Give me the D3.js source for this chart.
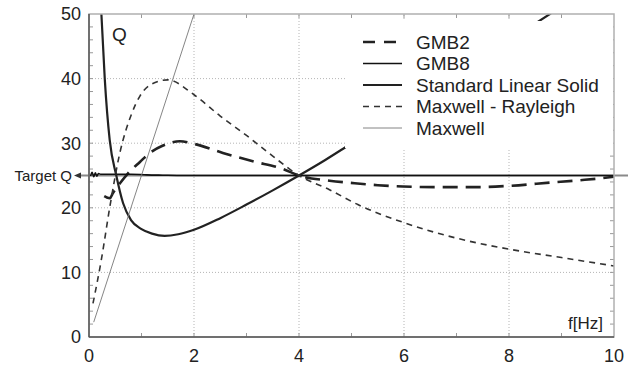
<!DOCTYPE html>
<html>
<head>
<meta charset="utf-8">
<script src="https://cdn.jsdelivr.net/npm/d3@7"></script>
<style>
  body { margin: 0; background: #fff; }
  text { font-family: "Liberation Sans", Arial, sans-serif; fill: #222; }
</style>
</head>
<body>
<div class="chart"></div>
<script>
var xTicks = [0, 2, 4, 6, 8, 10];
var yTicks = [0, 10, 20, 30, 40, 50];
var targetQ = 25;

var gmb2F = [0.29, 0.34, 0.4, 0.45, 0.59, 0.74, 0.97, 1.16, 1.4, 1.73, 2.0, 2.55, 3.12, 3.7, 4.0, 4.58, 5.06, 5.5, 5.98, 6.68, 7.38, 8.01, 8.78, 9.4, 9.79, 10];
var gmb2Q = [21.8, 21.6, 21.5, 22.2, 23.8, 25.3, 27.1, 28.5, 29.6, 30.3, 29.9, 28.5, 27.2, 26.0, 25.0, 24.2, 23.8, 23.5, 23.3, 23.2, 23.2, 23.4, 23.9, 24.3, 24.6, 24.8];

var gmb8F = [0.03, 0.06, 0.09, 0.12, 0.15, 0.18, 0.22, 0.3, 0.5, 0.8, 1.1, 1.4, 1.8, 2.5, 4, 6, 8, 10];
var gmb8Q = [24.9, 25.5, 24.8, 25.4, 24.9, 25.3, 25.2, 25.2, 25.2, 25.2, 25.1, 25.05, 25.0, 25.0, 25.0, 25.0, 25.0, 25.0];

var slsF = [0.236, 0.3, 0.394, 0.52, 0.65, 0.8, 1.0, 1.2, 1.44, 1.7, 2.0, 2.5, 3.0, 3.5, 4.0, 4.5, 4.87, 6, 7, 8, 8.8];
var slsQ = [50, 40, 30.5, 25, 20.7, 18.1, 16.7, 16.0, 15.65, 15.9, 16.6, 18.4, 20.5, 22.7, 25, 27.4, 29.3, 35.3, 40.6, 45.9, 50.1];

var mrF = [0.076, 0.236, 0.394, 0.585, 0.8, 0.97, 1.16, 1.5, 2.0, 2.5, 3.0, 3.5, 4.0, 4.58, 5.12, 6, 7, 8, 9, 10];
var mrQ = [5.2, 12, 20, 28.4, 34.3, 37.3, 39.0, 39.8, 37.5, 34.2, 31.2, 28.0, 25, 22.8, 20.5, 17.7, 15.3, 13.6, 12.3, 11.0];

var maxwellF = [0.09, 2.0];
var maxwellQ = [2.3, 50];

var seriesNames = ["GMB2", "GMB8", "Standard Linear Solid", "Maxwell - Rayleigh", "Maxwell"];

var width = 630, height = 365;
var x = d3.scaleLinear().domain([0, 10]).range([89, 614]);
var y = d3.scaleLinear().domain([0, 50]).range([337, 14]);

var svg = d3.select(".chart").append("svg")
  .attr("width", width)
  .attr("height", height);

svg.append("defs").append("clipPath").attr("id", "plot")
  .append("rect")
  .attr("x", x(0)).attr("y", y(50))
  .attr("width", x(10) - x(0)).attr("height", y(0) - y(50));

// grid
svg.append("g").selectAll("line").data(xTicks.slice(1, -1)).enter().append("line")
  .attr("x1", d => x(d)).attr("x2", d => x(d))
  .attr("y1", y(0)).attr("y2", y(50))
  .attr("stroke", "#b5b5b5").attr("stroke-dasharray", "1,2");
svg.append("g").selectAll("line").data(yTicks.slice(1, -1)).enter().append("line")
  .attr("y1", d => y(d)).attr("y2", d => y(d))
  .attr("x1", x(0)).attr("x2", x(10))
  .attr("stroke", "#b5b5b5").attr("stroke-dasharray", "1,2");

// minor ticks
var xMinor = d3.range(1, 10, 1);
var yMinor = d3.range(2, 50, 2);
var ticks = svg.append("g").attr("stroke", "#999").attr("stroke-width", 1);
xMinor.forEach(function (d) {
  ticks.append("line").attr("x1", x(d)).attr("x2", x(d)).attr("y1", y(0)).attr("y2", y(0) - 4);
  ticks.append("line").attr("x1", x(d)).attr("x2", x(d)).attr("y1", y(50)).attr("y2", y(50) + 4);
});
yMinor.forEach(function (d) {
  ticks.append("line").attr("y1", y(d)).attr("y2", y(d)).attr("x1", x(0)).attr("x2", x(0) + 4);
  ticks.append("line").attr("y1", y(d)).attr("y2", y(d)).attr("x1", x(10)).attr("x2", x(10) - 4);
});

// target Q line
svg.append("line")
  .attr("x1", 80).attr("x2", 628)
  .attr("y1", y(targetQ)).attr("y2", y(targetQ))
  .attr("stroke", "#8a8a8a").attr("stroke-width", 2);
svg.append("path")
  .attr("d", "M74," + y(targetQ) + "L81," + (y(targetQ) - 3) + "L81," + (y(targetQ) + 3) + "Z")
  .attr("fill", "#333");
svg.append("text")
  .attr("x", 72).attr("y", y(targetQ)).attr("dy", "0.35em")
  .attr("text-anchor", "end").style("font-size", "15px")
  .text("Target Q");

// curves
var line = d3.line().x(d => x(d[0])).y(d => y(d[1])).curve(d3.curveMonotoneX);
function pairs(f, q) { return f.map((v, i) => [v, q[i]]); }

var curves = [
  { name: seriesNames[0], data: pairs(gmb2F, gmb2Q), width: 2.6, dash: "15,8", color: "#222" },
  { name: seriesNames[1], data: pairs(gmb8F, gmb8Q), width: 1.6, dash: null, color: "#111" },
  { name: seriesNames[2], data: pairs(slsF, slsQ), width: 2.2, dash: null, color: "#222" },
  { name: seriesNames[3], data: pairs(mrF, mrQ), width: 1.6, dash: "6,5", color: "#333" },
  { name: seriesNames[4], data: pairs(maxwellF, maxwellQ), width: 0.9, dash: null, color: "#777" }
];

var plot = svg.append("g").attr("clip-path", "url(#plot)");
plot.selectAll("path").data(curves).enter().append("path")
  .attr("d", d => line(d.data))
  .attr("fill", "none")
  .attr("stroke", d => d.color)
  .attr("stroke-width", d => d.width)
  .attr("stroke-dasharray", d => d.dash);

// legend box (white, hides what is behind it)
var legend = svg.append("g");
legend.append("rect")
  .attr("x", 345).attr("y", 21)
  .attr("width", x(10) - 345 - 1).attr("height", 127)
  .attr("fill", "#fff");
legend.selectAll("line").data(curves).enter().append("line")
  .attr("x1", 363).attr("x2", 402)
  .attr("y1", (d, i) => 42 + i * 21.5).attr("y2", (d, i) => 42 + i * 21.5)
  .attr("stroke", d => d.color)
  .attr("stroke-width", d => d.width)
  .attr("stroke-dasharray", d => d.dash === "15,8" ? "12,9" : d.dash === "6,5" ? "6,5" : null);
legend.selectAll("text").data(curves).enter().append("text")
  .attr("x", 416).attr("y", (d, i) => 42 + i * 21.5).attr("dy", "0.35em")
  .style("font-size", "19px")
  .text(d => d.name);

// frame
svg.append("rect")
  .attr("x", x(0)).attr("y", y(50))
  .attr("width", x(10) - x(0)).attr("height", y(0) - y(50))
  .attr("fill", "none").attr("stroke", "#b0b0b0").attr("stroke-width", 1.5);
svg.append("line")
  .attr("x1", x(0)).attr("x2", x(10)).attr("y1", y(0)).attr("y2", y(0))
  .attr("stroke", "#555").attr("stroke-width", 1.5);
svg.append("line")
  .attr("x1", x(0)).attr("x2", x(0)).attr("y1", y(0)).attr("y2", y(50))
  .attr("stroke", "#555").attr("stroke-width", 1.5);

// tick labels
svg.append("g").selectAll("text").data(yTicks).enter().append("text")
  .attr("x", 81).attr("y", d => y(d)).attr("dy", "0.36em")
  .attr("text-anchor", "end").style("font-size", "18px")
  .text(d => d);
svg.append("g").selectAll("text").data(xTicks).enter().append("text")
  .attr("x", d => x(d)).attr("y", 362)
  .attr("text-anchor", "middle").style("font-size", "18px")
  .text(d => d);

svg.append("text").attr("x", 112).attr("y", 41).style("font-size", "19px").text("Q");
svg.append("text").attr("x", 603).attr("y", 329).attr("text-anchor", "end").style("font-size", "17px").text("f[Hz]");
</script>
</body>
</html>
